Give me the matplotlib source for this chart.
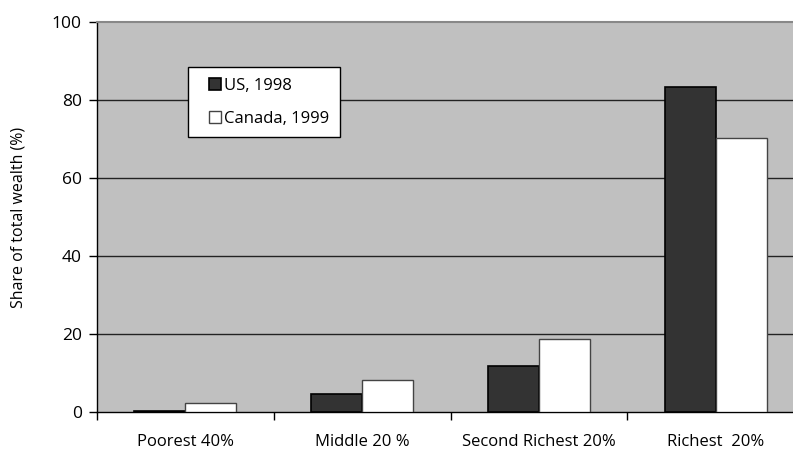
import matplotlib
matplotlib.use("Agg")
import matplotlib.pyplot as plt
from matplotlib.patches import Rectangle
from matplotlib.legend_handler import HandlerPatch
import numpy as np

categories = ["Poorest 40%", "Middle 20 %", "Second Richest 20%", "Richest  20%"]
us_1998 = [0.3, 4.5, 11.9, 83.4]
canada_1999 = [2.2, 8.3, 18.7, 70.3]
yticks = [0, 20, 40, 60, 80, 100]

plt.rcParams['font.family'] = ['Open Sans', 'DejaVu Sans']

W, H = 793, 451
fig = plt.figure(figsize=(W / 100, H / 100), dpi=100)
fig.patch.set_facecolor('white')
ax = fig.add_axes([97 / W, 1 - 412 / H, (804 - 97) / W, (412 - 22) / H])
ax.set_facecolor('#c0c0c0')

x = np.arange(len(categories))
bw = 0.288
b1 = ax.bar(x - bw / 2, us_1998, bw, color='#333333', edgecolor='black', linewidth=1.2,
            label='US, 1998', zorder=3)
b2 = ax.bar(x + bw / 2, canada_1999, bw, color='white', edgecolor='#444444', linewidth=1.0,
            label='Canada, 1999', zorder=3)

ax.set_ylim(0, 100)
ax.set_xlim(-0.5, len(categories) - 0.5)
ax.set_yticks(yticks)
ax.set_yticklabels([str(v) for v in yticks], fontsize=12.5)
for v in yticks[1:-1]:
    ax.axhline(v, color='#222222', linewidth=1.0, zorder=1)

ax.set_xticks(np.arange(-0.5, len(categories) - 0.5 + 1e-9, 1.0))
ax.set_xticklabels([])
ax.set_xticks(x, minor=True)
ax.set_xticklabels(categories, minor=True, fontsize=12)
ax.tick_params(axis='x', which='minor', length=0, pad=16)
ax.tick_params(axis='x', which='major', length=6, width=1, direction='out')
ax.tick_params(axis='y', length=6, width=1, direction='out', pad=5)

for s in ['left', 'bottom']:
    ax.spines[s].set_color('black')
    ax.spines[s].set_linewidth(1.0)
ax.spines['top'].set_color('#888888')
ax.spines['top'].set_linewidth(1.5)
ax.spines['right'].set_visible(False)

ax.set_ylabel('Share of total wealth (%)', fontsize=11.5)
ax.yaxis.set_label_coords(-70 / (804 - 97), 0.5)


def square_right(legend, orig_handle, xdescent, ydescent, width, height, fontsize):
    side = height
    return Rectangle((-xdescent + width - side, -ydescent), side, side)


leg = ax.legend([b1[0], b2[0]], ['US, 1998', 'Canada, 1999'],
                loc='upper left', bbox_to_anchor=(188 / W, 1 - 67 / H),
                bbox_transform=fig.transFigure, frameon=True, fancybox=False,
                fontsize=12, handlelength=1.3, handleheight=0.72,
                handletextpad=0.2, borderpad=0.65, labelspacing=1.0,
                borderaxespad=0,
                handler_map={Rectangle: HandlerPatch(patch_func=square_right)})
leg.get_frame().set_edgecolor('black')
leg.get_frame().set_linewidth(1.0)
leg.get_frame().set_facecolor('white')
leg.get_frame().set_alpha(1)

fig.savefig('out.png', dpi=100)
